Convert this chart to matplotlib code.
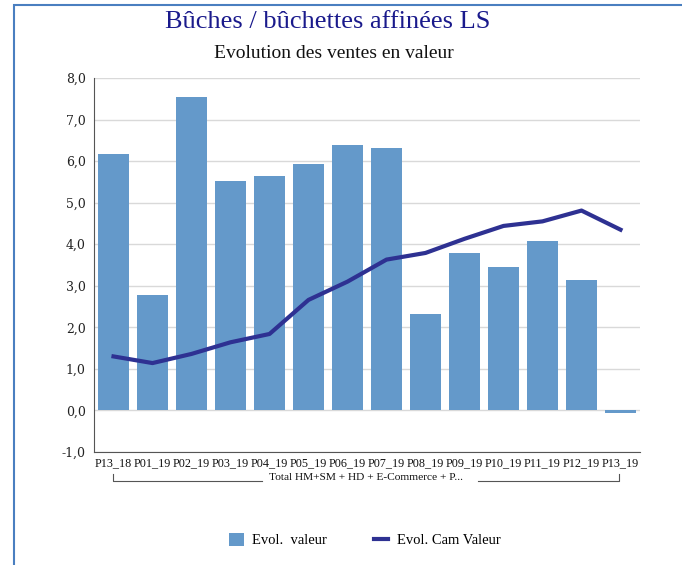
import matplotlib
matplotlib.use("Agg")
import matplotlib.pyplot as plt
from matplotlib.patches import Rectangle
from matplotlib.lines import Line2D

periods = ["P13_18", "P01_19", "P02_19", "P03_19", "P04_19", "P05_19", "P06_19",
           "P07_19", "P08_19", "P09_19", "P10_19", "P11_19", "P12_19", "P13_19"]
evol_valeur = [6.17, 2.79, 7.55, 5.52, 5.64, 5.92, 6.38, 6.31, 2.33, 3.80, 3.44, 4.07, 3.13, -0.07]
evol_cam = [1.30, 1.14, 1.36, 1.64, 1.84, 2.66, 3.10, 3.63, 3.79, 4.13, 4.44, 4.55, 4.81, 4.35]
yticks = [-1, 0, 1, 2, 3, 4, 5, 6, 7, 8]
group_label = "Total HM+SM + HD + E-Commerce + P..."

BAR = "#6499ca"
LINE = "#2e3192"
SERIF = "Liberation Serif"

fig = plt.figure(figsize=(6.82, 5.65), dpi=100)
# blue frame on left / top edges
fig.patches.append(Rectangle((14 / 682, -0.01), 1.2, 1.0 - 5 / 565 + 0.01, transform=fig.transFigure,
                             fill=False, edgecolor="#4a7fc0", lw=1.5))

ax = fig.add_axes([94 / 682, 1 - 452 / 565, 546 / 682, 374 / 565])
x = list(range(len(periods)))
bars = ax.bar(x, evol_valeur, width=0.82, color=BAR, zorder=2, label="Evol.  valeur")
line, = ax.plot(x, evol_cam, color=LINE, lw=3, zorder=3, label="Evol. Cam Valeur")

ax.set_xlim(-0.5, len(periods) - 0.5)
ax.set_ylim(-1, 8)
ax.set_yticks(yticks)
ax.set_yticklabels([f"{v:.1f}".replace(".", ",") for v in yticks], fontfamily="DejaVu Serif",
                   fontsize=9, color="#222222")
ax.set_xticks(x)
ax.set_xticklabels(periods, fontfamily=SERIF, fontsize=8.7, color="#111111")
ax.tick_params(axis="both", length=0)
ax.tick_params(axis="y", pad=6)
ax.tick_params(axis="x", pad=4)
ax.grid(axis="y", color="#d9d9d9", lw=1, zorder=0)
for s in ["top", "right"]:
    ax.spines[s].set_visible(False)
ax.spines["left"].set_color("#555555")
ax.spines["bottom"].set_color("#555555")

# group bracket under category labels
yb = 1 - 481 / 565
yt = 1 - 474 / 565
fig.add_artist(Line2D([113 / 682, 113 / 682, 262 / 682], [yt, yb, yb], color="#555555", lw=0.8))
fig.add_artist(Line2D([478 / 682, 619 / 682, 619 / 682], [yb, yb, yt], color="#555555", lw=0.8))
fig.text(366 / 682, 1 - 477 / 565, group_label, ha="center", va="center", fontfamily=SERIF,
         fontsize=8.2, color="#111111")

fig.text(328 / 682, 1 - 22 / 565, "Bûches / bûchettes affinées LS", ha="center", va="center",
         fontfamily=SERIF, fontsize=19, color="#1a1a8c")
fig.text(334 / 682, 1 - 53 / 565, "Evolution des ventes en valeur", ha="center", va="center",
         fontfamily=SERIF, fontsize=14, color="#111111")

fig.legend([bars, line], ["Evol.  valeur", "Evol. Cam Valeur"], loc="center",
           bbox_to_anchor=(365 / 682, 1 - 540 / 565), ncol=2, frameon=False,
           prop={"family": SERIF, "size": 10.5}, handlelength=1.0, handleheight=1.0,
           handletextpad=0.6, columnspacing=3.2)

fig.savefig("out.png", dpi=100)
